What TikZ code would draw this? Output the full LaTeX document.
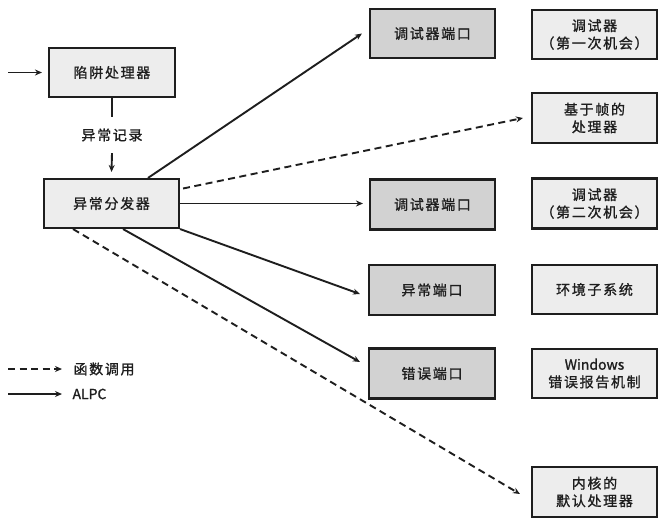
\documentclass[tikz,border=0pt]{standalone}
\usepackage{fontspec}
\setmainfont{Noto Sans CJK SC}[LetterSpace=12, FakeBold=1.2]
\newfontfamily\latinface{Noto Sans CJK SC}[FakeBold=1.2]
\usetikzlibrary{arrows.meta}
\definecolor{lightbox}{HTML}{EDEDED}
\definecolor{portbox}{HTML}{D2D2D2}
\definecolor{ink}{HTML}{1E1E1E}
\tikzset{
  base/.style={draw=ink, line width=2.1pt, minimum width=125pt, minimum height=49pt,
    align=center, font=\fontsize{14}{17.5}\selectfont, text=ink, inner sep=2pt},
  plainbox/.style={base, fill=lightbox},
  portnode/.style={base, fill=portbox},
  tip/.style={-{Stealth[length=7pt,width=6pt]}},
  alpc/.style={tip, draw=ink, line width=1.9pt},
  fcall/.style={tip, draw=ink, line width=1.9pt, dash pattern=on 7pt off 4.5pt},
  lbl/.style={font=\fontsize{14}{17}\selectfont, text=ink}
}
\begin{document}
\begin{tikzpicture}[x=1pt,y=-1pt]
\useasboundingbox (0,0) rectangle (666,524);

% left column
\node[plainbox, minimum width=126pt] (trap) at (112,72.5) {陷阱处理器};
\node[plainbox, minimum width=135pt] (disp) at (111.5,203.5) {异常分发器};
\node[lbl, inner ysep=9pt, minimum height=36pt] (rec) at (112,135) {异常记录};

% ports
\node[portnode] (port1) at (432.5,33.5) {调试器端口};
\node[portnode, minimum height=50pt] (port2) at (432.5,204.5) {调试器端口};
\node[portnode, minimum width=126pt, minimum height=50pt] (excport) at (432,290) {异常端口};
\node[portnode, minimum width=126pt, minimum height=50pt] (errport) at (432,373.5) {错误端口};

% receivers
\node[plainbox] (dbg1) at (594.5,34.5) {调试器\\（第一次机会）};
\node[plainbox, minimum height=50pt] (frame) at (594.5,118) {基于帧的\\处理器};
\node[plainbox, minimum height=50pt] (dbg2) at (594.5,203.5) {调试器\\（第二次机会）};
\node[plainbox] (env) at (594.5,289.5) {环境子系统};
\node[plainbox] (wer) at (594.5,373.5) {{\latinface Windows}\\错误报告机制};
\node[plainbox, minimum height=50pt] (kern) at (594.5,492) {内核的\\默认处理器};

% trap path
\coordinate (in) at (8,72.5);
\draw[alpc] (in) -- ([xshift=-6pt]trap.west);
\draw[draw=ink, line width=1.9pt] (trap.south) -- (rec.north);
\draw[alpc] (rec.south) -- ([yshift=6pt]disp.north);

% dispatcher fan-out
\draw[alpc] ([xshift=36.5pt]disp.north) -- ([xshift=-7pt]port1.west);
\draw[fcall] ([xshift=3pt,yshift=15pt]disp.east) -- ([xshift=-8pt]frame.west);
\draw[alpc] (disp.east) -- ([xshift=-6pt]disp.east -| port2.west);
\draw[alpc] (disp.south east) -- ([xshift=-8pt,yshift=-4pt]excport.west);
\draw[alpc] ([xshift=11.5pt]disp.south) -- ([xshift=-8pt,yshift=11.5pt]errport.west);
\draw[fcall] ([xshift=-38.5pt]disp.south) -- ([xshift=-11pt,yshift=-2pt]kern.west);

% legend
\coordinate (l1a) at (8,369);
\coordinate (l1b) at (62,369);
\coordinate (l2a) at (8,394);
\coordinate (l2b) at (62,394);
\draw[fcall] (l1a) -- (l1b);
\draw[alpc] (l2a) -- (l2b);
\node[lbl, anchor=west] (k1) at (70,369) {函数调用};
\node[lbl, anchor=west] (k2) at (69,394) {\latinface ALPC};
\end{tikzpicture}
\end{document}
